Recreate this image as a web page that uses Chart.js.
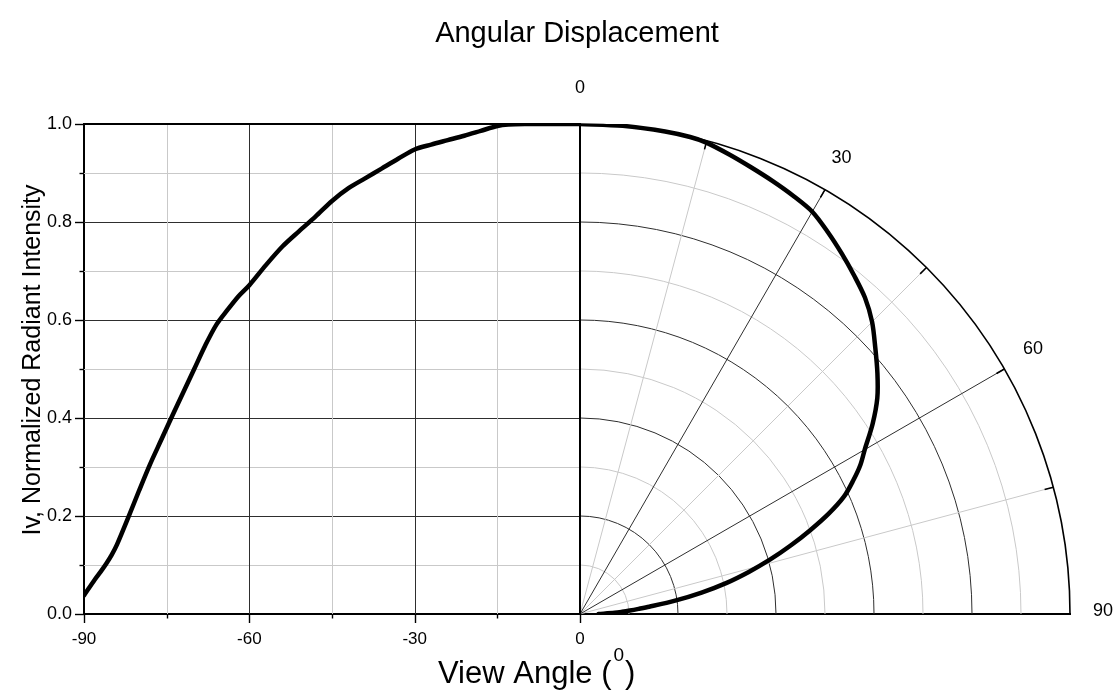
<!DOCTYPE html>
<html lang="en">
<head>
<meta charset="UTF-8">
<title>Angular Displacement</title>
<script src="https://cdn.jsdelivr.net/npm/chart.js"></script>
<style>
  html, body { margin: 0; padding: 0; background: #fff; }
</style>
</head>
<body>
<canvas id="angChart" width="1117" height="695"></canvas>
<script>
// view angle (deg off axis) and normalized intensity
const viewAngles = [0, 5, 10, 13, 15, 18, 21, 24, 27, 30, 33, 36, 39, 42, 45, 48, 51, 54, 57, 60,
                    62, 64, 66, 68, 70, 72, 74, 76, 78, 80, 82, 84, 85, 86, 87, 88, 90];
const intensity  = [1.000, 1.000, 1.000, 0.999, 0.996, 0.986, 0.976, 0.967, 0.958, 0.948, 0.929, 0.909,
                    0.889, 0.869, 0.843, 0.811, 0.781, 0.750, 0.712, 0.671, 0.648, 0.620, 0.590, 0.548,
                    0.500, 0.452, 0.404, 0.355, 0.306, 0.252, 0.196, 0.142, 0.120, 0.102, 0.086, 0.071, 0.038];

const xTicks = [-90, -60, -30, 0];
const xMinor = [-75, -45, -15];
const yTicks = [0, 0.2, 0.4, 0.6, 0.8, 1.0];
const yMinor = [0.1, 0.3, 0.5, 0.7, 0.9];
const polarAngles = [0, 30, 60, 90];
const polarMinor = [15, 45, 75];

const FONT = "'Liberation Sans', Arial, sans-serif";
const DARK = '#2e2e2e';
const LIGHT = '#c9c9c9';

// left half: plain intensity vs angle, right half: same curve in polar form
const leftData = viewAngles.map((a, i) => ({ x: -a, y: intensity[i] })).reverse();
const polarData = viewAngles.map((a, i) => {
    const t = a * Math.PI / 180;
    return { x: intensity[i] * Math.sin(t), y: intensity[i] * Math.cos(t) };
});

const crisp = p => Math.round(p) + 0.5;

function line(ctx, x1, y1, x2, y2, color, width) {
    ctx.beginPath();
    ctx.strokeStyle = color;
    ctx.lineWidth = width;
    ctx.moveTo(x1, y1);
    ctx.lineTo(x2, y2);
    ctx.stroke();
}

const polarGrid = {
    id: 'polarGrid',
    afterLayout(chart) {
        // keep one intensity unit the same length in x and y so the quarter circle is round
        const { x, xr, y } = chart.scales;
        const area = chart.chartArea;
        const R = y.bottom - y.top;
        const zero = area.right - R;
        x.min = -90;
        x.max = 90 * R / (zero - area.left);
        xr.min = -(zero - area.left) / R;
        xr.max = 1;
        x.configure();
        xr.configure();
    },
    beforeDatasetsDraw(chart) {
        const { ctx } = chart;
        const { x, xr, y } = chart.scales;
        const cx = xr.getPixelForValue(0);
        const cy = y.getPixelForValue(0);
        const R = cy - y.getPixelForValue(1);
        const left = x.getPixelForValue(-90);
        const top = y.getPixelForValue(1);
        ctx.save();

        // cartesian grid
        [...yMinor, ...yTicks.slice(1, -1)].forEach(v => {
            const py = crisp(y.getPixelForValue(v));
            line(ctx, left, py, cx, py, yMinor.includes(v) ? LIGHT : DARK, 1);
        });
        [...xMinor, ...xTicks.slice(1, -1)].forEach(v => {
            const px = crisp(x.getPixelForValue(v));
            line(ctx, px, cy, px, top, xMinor.includes(v) ? LIGHT : DARK, 1);
        });

        // polar rings
        [...yMinor, ...yTicks.slice(1, -1)].forEach(v => {
            ctx.beginPath();
            ctx.strokeStyle = yMinor.includes(v) ? LIGHT : DARK;
            ctx.lineWidth = 1;
            ctx.arc(cx, cy, R * v, -Math.PI / 2, 0);
            ctx.stroke();
        });
        // spokes
        [...polarMinor, ...polarAngles.slice(1, -1)].forEach(a => {
            const t = a * Math.PI / 180;
            line(ctx, cx, cy, cx + R * Math.sin(t), cy - R * Math.cos(t),
                 polarMinor.includes(a) ? LIGHT : DARK, 1);
        });
        // outer ring + inward ticks
        ctx.beginPath();
        ctx.strokeStyle = '#000';
        ctx.lineWidth = 1.6;
        ctx.arc(cx, cy, R, -Math.PI / 2, 0);
        ctx.stroke();
        [...polarMinor, ...polarAngles.slice(1)].forEach(a => {
            const t = a * Math.PI / 180;
            line(ctx, cx + R * Math.sin(t), cy - R * Math.cos(t),
                 cx + (R - 9) * Math.sin(t), cy - (R - 9) * Math.cos(t), '#000', 1.6);
        });

        // frame: top edge and the 0 deg line
        line(ctx, left, Math.round(top), cx, Math.round(top), '#000', 2);
        line(ctx, Math.round(cx), cy, Math.round(cx), top - 1, '#000', 2);

        // axis tick marks
        yTicks.forEach(v => {
            const py = crisp(y.getPixelForValue(v));
            line(ctx, left, py, left - 9, py, '#000', 1.4);
        });
        yMinor.forEach(v => {
            const py = crisp(y.getPixelForValue(v));
            line(ctx, left, py, left - 4.5, py, '#000', 1.4);
        });
        xTicks.forEach(v => {
            const px = crisp(x.getPixelForValue(v));
            line(ctx, px, cy, px, cy + 9, '#000', 1.4);
        });
        xMinor.forEach(v => {
            const px = crisp(x.getPixelForValue(v));
            line(ctx, px, cy, px, cy + 4.5, '#000', 1.4);
        });
        ctx.restore();
    },
    afterDraw(chart) {
        const { ctx } = chart;
        const { xr, y } = chart.scales;
        const cx = xr.getPixelForValue(0);
        const cy = y.getPixelForValue(0);
        const R = cy - y.getPixelForValue(1);
        ctx.save();
        ctx.fillStyle = '#000';

        // angle labels around the quarter circle
        ctx.font = '18px ' + FONT;
        ctx.textAlign = 'center';
        ctx.textBaseline = 'middle';
        polarAngles.forEach(a => {
            const t = a * Math.PI / 180;
            ctx.fillText(String(a), cx + (R + 33) * Math.sin(t), cy - (R + 33) * Math.cos(t) - 3);
        });

        // y axis title
        ctx.save();
        ctx.translate(33, 360);
        ctx.rotate(-Math.PI / 2);
        ctx.font = '25px ' + FONT;
        ctx.fillText('Iv, Normalized Radiant Intensity', 0, 0);
        ctx.restore();

        // x axis title with superscript degree zero
        ctx.textAlign = 'left';
        ctx.textBaseline = 'alphabetic';
        let tx = 438;
        ctx.font = '31px ' + FONT;
        ctx.fillText('View Angle (', tx, 683);
        tx += ctx.measureText('View Angle (').width + 2;
        ctx.font = '19px ' + FONT;
        ctx.fillText('0', tx, 661);
        tx += ctx.measureText('0').width + 1;
        ctx.font = '31px ' + FONT;
        ctx.fillText(')', tx, 683);
        ctx.restore();
    }
};

const ctx = document.getElementById('angChart').getContext('2d');
const angChart = new Chart(ctx, {
    type: 'scatter',
    data: {
        datasets: [
            { label: 'Iv', data: leftData, xAxisID: 'x', yAxisID: 'y', showLine: true,
              borderColor: '#000', borderWidth: 4.5, pointRadius: 0, tension: 0.3,
              borderJoinStyle: 'round', borderCapStyle: 'round' },
            { label: 'Iv polar', data: polarData, xAxisID: 'xr', yAxisID: 'y', showLine: true,
              borderColor: '#000', borderWidth: 4.5, pointRadius: 0, tension: 0.3,
              borderJoinStyle: 'round', borderCapStyle: 'round' }
        ]
    },
    options: {
        responsive: false,
        animation: false,
        devicePixelRatio: 1,
        layout: { padding: { left: 0, right: 47, top: 0, bottom: 0 } },
        plugins: {
            legend: { display: false },
            tooltip: { enabled: false },
            title: {
                display: true,
                text: 'Angular Displacement',
                color: '#000',
                fullSize: false,
                font: { family: FONT, size: 29, weight: 'normal' },
                padding: { top: 17, bottom: 72.2 }
            }
        },
        scales: {
            x: {
                type: 'linear', position: 'bottom', min: -90, max: 88.9,
                afterBuildTicks: s => { s.ticks = xTicks.map(v => ({ value: v })); },
                afterFit: s => { s.height = 81; },
                grid: { display: false, drawTicks: false },
                border: { color: '#000', width: 2 },
                ticks: { color: '#000', padding: 15, font: { family: FONT, size: 17 }, callback: v => String(v) }
            },
            xr: { type: 'linear', display: false, min: -1.012, max: 1 },
            y: {
                type: 'linear', position: 'left', min: 0, max: 1,
                afterBuildTicks: s => { s.ticks = yTicks.map(v => ({ value: v })); },
                afterFit: s => { s.width = 84; },
                grid: { display: false, drawTicks: false },
                border: { color: '#000', width: 2 },
                ticks: { color: '#000', padding: 12, font: { family: FONT, size: 18 }, callback: v => v.toFixed(1) }
            }
        }
    },
    plugins: [polarGrid]
});
</script>
</body>
</html>
